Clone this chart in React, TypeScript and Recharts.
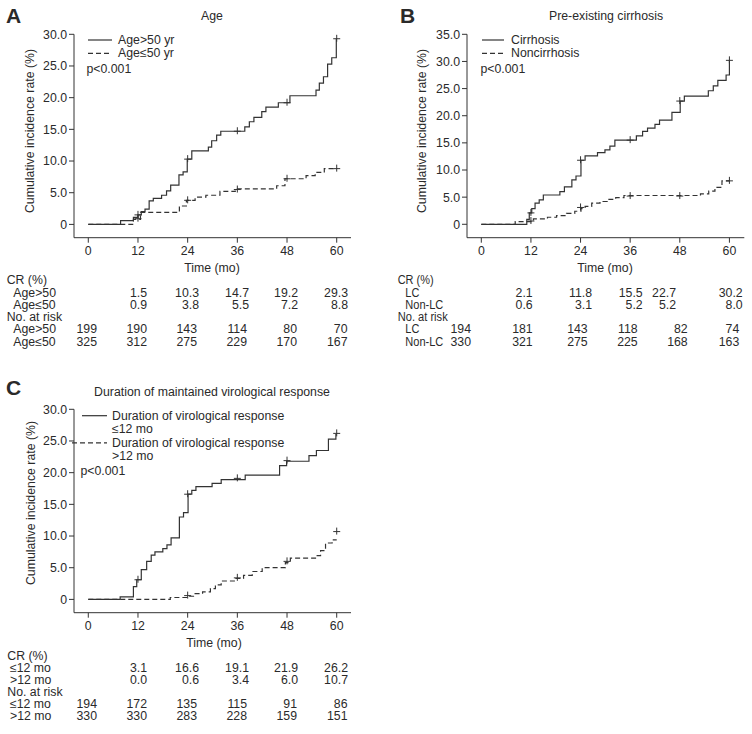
import React from 'react';
import { ComposedChart, Line, Scatter, XAxis, YAxis } from 'recharts';

// step points [time (mo), cumulative incidence (%)]
const ageOver50 = [[0,0],[7.8,0.6],[10.9,1.1],[12,1.5],[12.8,2.0],[13.7,2.4],[14.7,3.7],[15.7,4.1],[17.7,4.6],[18.9,5.3],[19.9,6.2],[21.9,7.8],[22.9,8.3],[23.9,10.3],[25,11.6],[29,12.2],[29.8,13.2],[31,14.1],[32,14.7],[37.8,15.4],[38.9,16.2],[40,16.9],[41.9,17.8],[42.9,18.5],[45.9,19.2],[48.7,20.3],[55,21.2],[55.8,22.3],[56.8,23.3],[57.8,25.3],[58.8,26.3],[59.9,29.3]];
const ageUnder50 = [[0,0],[10.9,0.8],[12.6,1.9],[22,2.9],[23.7,3.8],[25.8,4.3],[28.4,4.6],[31.8,5.2],[35.5,5.6],[45.5,6.1],[47.5,7.2],[52.6,7.7],[54.8,8.2],[57,8.8],[60,8.8]];
const cirrhosis = [[0,0],[11,0.9],[11.6,2.1],[12.2,2.9],[13,3.9],[14,4.5],[15,5.4],[19,6.0],[20.1,6.9],[21.9,8.2],[22.9,8.9],[24.1,11.8],[25.1,12.6],[28.1,13.2],[29.9,13.7],[31.1,14.4],[32.3,15.5],[37.5,16.3],[39,17.1],[40.2,17.7],[42,18.4],[43.1,19.2],[46.1,20.6],[48.1,22.7],[49.1,23.6],[54.9,24.6],[56.1,25.5],[57.2,26.5],[59.2,27.5],[60,30.2]];
const noncirrhosis = [[0,0],[8.2,0.5],[12.6,1.0],[16,1.3],[18.2,1.6],[20.6,2.0],[22.6,2.4],[24.1,2.9],[25.1,3.3],[26.7,3.9],[28.7,4.2],[30.5,4.6],[32.5,4.9],[34.5,5.3],[53,5.6],[55,6.1],[56.5,6.8],[58.2,8.0],[60,8.0]];
const vrShort = [[0,0],[7.7,0.4],[10.9,2.0],[11.7,3.1],[12.8,4.7],[14.1,6.0],[15.2,7.0],[16.1,7.5],[18,8.0],[19,8.6],[20,9.7],[22,13.0],[23,13.7],[24.1,16.6],[25,17.2],[26,17.8],[29.9,18.3],[32.1,18.9],[37.9,19.6],[46.2,21.1],[47.9,21.8],[53.3,22.7],[55.1,23.5],[58,25.3],[59.8,26.0],[60,26.0]];
const vrLong = [[0,0],[19.8,0.3],[24,0.5],[25.8,0.9],[27.6,1.2],[29.5,1.7],[30.7,2.3],[32.1,2.9],[35.5,3.3],[37.5,3.8],[39.6,4.4],[42,5.0],[47.6,5.8],[48.8,6.5],[55.1,6.9],[56.1,7.7],[57.3,8.9],[58.9,9.4],[60,9.4]];

const timeTicks = [0, 12, 24, 36, 48, 60];
const censorTimes = [12, 24, 36, 48, 60];
const ticks30 = [0, 5, 10, 15, 20, 25, 30];
const ticks35 = [0, 5, 10, 15, 20, 25, 30, 35];

// CR (%) at 12..60 mo
const crAgeOver = ['1.5', '10.3', '14.7', '19.2', '29.3'];
const crAgeUnder = ['0.9', '3.8', '5.5', '7.2', '8.8'];
const crLC = ['2.1', '11.8', '15.5', '22.7', '30.2'];
const crNonLC = ['0.6', '3.1', '5.2', '5.2', '8.0'];
const crShort = ['3.1', '16.6', '19.1', '21.9', '26.2'];
const crLong = ['0.0', '0.6', '3.4', '6.0', '10.7'];

// No. at risk at 0..60 mo
const riskAgeOver = [199, 190, 143, 114, 80, 70];
const riskAgeUnder = [325, 312, 275, 229, 170, 167];
const riskLC = [194, 181, 143, 118, 82, 74];
const riskNonLC = [330, 321, 275, 225, 168, 163];
const riskShort = [194, 172, 135, 115, 91, 86];
const riskLong = [330, 330, 283, 228, 159, 151];

const toPts = (arr: number[][]) => arr.map(([t, v]) => ({ t, v }));
const toCensor = (cr: string[]) => cr.map((v, i) => ({ t: censorTimes[i], v: parseFloat(v) }));

const FONT = '"Liberation Sans", Arial, Helvetica, sans-serif';
const FS = 12.3;
const INK = '#2a2a2a';

const Plus = (props: any) => {
  const { cx, cy } = props;
  if (cx == null || cy == null) return null;
  return (
    <g stroke="#333" strokeWidth={1}>
      <line x1={cx - 3.5} x2={cx + 3.5} y1={cy} y2={cy} />
      <line x1={cx} x2={cx} y1={cy - 4} y2={cy + 3} />
    </g>
  );
};

const fmtY = (v: number) => (v === 0 ? '0' : v.toFixed(1));

interface PanelProps {
  left: number;
  top: number;
  yAxisWidth: number;
  marginRight: number;
  xDomain: number[];
  yDomain: number[];
  yTicks: number[];
  solid: number[][];
  dashed: number[][];
  solidCr: string[];
  dashedCr: string[];
  skipDashed0?: boolean;
}

const KMPanel: React.FC<PanelProps> = ({ left, top, yAxisWidth, marginRight, xDomain, yDomain, yTicks, solid, dashed, solidCr, dashedCr, skipDashed0 }) => {
  const dashedCensor = toCensor(dashedCr).filter((p) => !(skipDashed0 && p.v === 0));
  return (
    <div style={{ position: 'absolute', left, top }}>
      <ComposedChart width={376} height={280} margin={{ top: 34.3, right: marginRight, bottom: 12.3, left: 0 }}>
        <XAxis
          type="number"
          dataKey="t"
          domain={xDomain}
          ticks={timeTicks}
          allowDataOverflow
          height={30}
          tickSize={5}
          tickMargin={4}
          stroke="#333"
          tick={{ fill: INK, fontSize: FS }}
        />
        <YAxis
          type="number"
          dataKey="v"
          domain={yDomain}
          ticks={yTicks}
          allowDataOverflow
          width={yAxisWidth}
          tickSize={5}
          tickMargin={2}
          stroke="#333"
          tick={{ fill: INK, fontSize: FS }}
          tickFormatter={fmtY}
        />
        <Line data={toPts(solid)} dataKey="v" type="stepAfter" stroke="#333" strokeWidth={1.2} dot={false} isAnimationActive={false} />
        <Line data={toPts(dashed)} dataKey="v" type="stepAfter" stroke="#333" strokeWidth={1.2} strokeDasharray="5 3" dot={false} isAnimationActive={false} />
        <Scatter data={toCensor(solidCr)} dataKey="v" shape={<Plus />} isAnimationActive={false} />
        <Scatter data={dashedCensor} dataKey="v" shape={<Plus />} isAnimationActive={false} />
      </ComposedChart>
    </div>
  );
};

const Txt = ({ x, y, children, anchor = 'start', size = FS, weight = 400, fit }: any) => (
  <text x={x} y={y} textAnchor={anchor} fontSize={size} fontWeight={weight} fill={INK}
    {...(fit ? { textLength: fit, lengthAdjust: 'spacingAndGlyphs' } : {})}>{children}</text>
);

const VLabel = ({ x, y }: { x: number; y: number }) => (
  <text x={x} y={y} textAnchor="middle" fontSize={FS} fill={INK} transform={`rotate(-90 ${x} ${y})`}>
    Cumulative incidence rate (%)
  </text>
);

const Legend = ({ x1, x2, xd1, y, rowGap, textX, solidLines, dashedLines, pY }: any) => (
  <g>
    <line x1={x1} x2={x2} y1={y} y2={y} stroke="#333" strokeWidth={1.2} />
    {solidLines.map((s: string, i: number) => (
      <Txt key={'s' + i} x={textX} y={y + 4.3 + i * rowGap}>{s}</Txt>
    ))}
    <line x1={xd1} x2={x2} y1={y + solidLines.length * rowGap + 0.5} y2={y + solidLines.length * rowGap + 0.5} stroke="#333" strokeWidth={1.2} strokeDasharray="5 3" />
    {dashedLines.map((s: string, i: number) => (
      <Txt key={'d' + i} x={textX} y={y + 4.3 + (solidLines.length + i) * rowGap}>{s}</Txt>
    ))}
    <Txt x={x1 - 1.5} y={pY}>p&lt;0.001</Txt>
  </g>
);

const RiskTable = ({ labelX, subX, baselines, crRight, riskRight, names, cr1, cr2, r1, r2, fits = {} }: any) => (
  <g>
    <Txt x={labelX} y={baselines[0]} fit={fits.cr}>CR (%)</Txt>
    <Txt x={subX} y={baselines[1]} fit={fits.n0}>{names[0]}</Txt>
    <Txt x={subX} y={baselines[2]} fit={fits.n1}>{names[1]}</Txt>
    {cr1.map((v: string, i: number) => <Txt key={'a' + i} x={crRight[i + 1]} y={baselines[1]} anchor="end">{v}</Txt>)}
    {cr2.map((v: string, i: number) => <Txt key={'b' + i} x={crRight[i + 1]} y={baselines[2]} anchor="end">{v}</Txt>)}
    <Txt x={labelX} y={baselines[3]} fit={fits.risk}>No. at risk</Txt>
    <Txt x={subX} y={baselines[4]} fit={fits.n0}>{names[0]}</Txt>
    <Txt x={subX} y={baselines[5]} fit={fits.n1}>{names[1]}</Txt>
    {r1.map((v: number, i: number) => <Txt key={'c' + i} x={riskRight[i]} y={baselines[4]} anchor="end">{v}</Txt>)}
    {r2.map((v: number, i: number) => <Txt key={'d' + i} x={riskRight[i]} y={baselines[5]} anchor="end">{v}</Txt>)}
  </g>
);

export default function App() {
  const rowsTop = [283.5, 297, 309, 321, 333.3, 345.7];
  const rowsC = [660, 672, 684, 696, 708.3, 720];
  const colsA = [97, 147, 199, 249, 298, 348];
  const riskColsA = [97, 147, 197, 247, 297, 347.5];
  const crColsB = [471, 532.7, 592, 642.7, 676, 742.7];
  const riskColsB = [471, 532.7, 587.7, 637.7, 687.7, 739.3];

  return (
    <div style={{ position: 'absolute', left: 0, top: 0, width: 752, height: 734, background: '#fff', fontFamily: FONT }}>
      <KMPanel left={0} top={0} yAxisWidth={74} marginRight={25} xDomain={[-3.45, 63.45]} yDomain={[-2.1, 30]} yTicks={ticks30}
        solid={ageOver50} dashed={ageUnder50} solidCr={crAgeOver} dashedCr={crAgeUnder} />
      <KMPanel left={376} top={0} yAxisWidth={91} marginRight={7.7} xDomain={[-3.46, 63.6]} yDomain={[-2.47, 35]} yTicks={ticks35}
        solid={cirrhosis} dashed={noncirrhosis} solidCr={crLC} dashedCr={crNonLC} />
      <KMPanel left={0} top={375} yAxisWidth={74} marginRight={25} xDomain={[-3.45, 63.45]} yDomain={[-2.1, 30]} yTicks={ticks30}
        solid={vrShort} dashed={vrLong} solidCr={crShort} dashedCr={crLong} skipDashed0 />

      <svg width={752} height={734} style={{ position: 'absolute', left: 0, top: 0, pointerEvents: 'none', fontFamily: FONT }}>
        {/* panel letters and titles */}
        <Txt x={6} y={23} size={21} weight={700}>A</Txt>
        <Txt x={400} y={23} size={21} weight={700}>B</Txt>
        <Txt x={6} y={395} size={21} weight={700}>C</Txt>
        <Txt x={212} y={20} anchor="middle">Age</Txt>
        <Txt x={606} y={20} anchor="middle">Pre-existing cirrhosis</Txt>
        <Txt x={212} y={396} anchor="middle">Duration of maintained virological response</Txt>

        <VLabel x={34} y={131} />
        <VLabel x={426} y={131} />
        <VLabel x={35} y={503} />

        <Txt x={212} y={272} anchor="middle">Time (mo)</Txt>
        <Txt x={605} y={272} anchor="middle">Time (mo)</Txt>
        <Txt x={214} y={646.5} anchor="middle">Time (mo)</Txt>

        <Legend x1={88} x2={112} xd1={88} y={40} rowGap={12.8} textX={118}
          solidLines={['Age>50 yr']} dashedLines={['Age≤50 yr']} pY={72.5} />
        <Legend x1={482} x2={504} xd1={482} y={40} rowGap={12.8} textX={511}
          solidLines={['Cirrhosis']} dashedLines={['Noncirrhosis']} pY={72.5} />
        <Legend x1={82} x2={107} xd1={72} y={415.7} rowGap={13.3} textX={112}
          solidLines={['Duration of virological response', '≤12 mo']} dashedLines={['Duration of virological response', '>12 mo']} pY={475} />

        <RiskTable labelX={6.7} subX={13.3} baselines={rowsTop} crRight={colsA} riskRight={riskColsA}
          names={['Age>50', 'Age≤50']} cr1={crAgeOver} cr2={crAgeUnder} r1={riskAgeOver} r2={riskAgeUnder} />
        <RiskTable labelX={397.7} subX={405.3} baselines={rowsTop} crRight={crColsB} riskRight={riskColsB}
          names={['LC', 'Non-LC']} cr1={crLC} cr2={crNonLC} r1={riskLC} r2={riskNonLC}
          fits={{ cr: 36, n0: 14, n1: 38, risk: 50 }} />
        <RiskTable labelX={7.3} subX={10} baselines={rowsC} crRight={colsA} riskRight={riskColsA}
          names={['≤12 mo', '>12 mo']} cr1={crShort} cr2={crLong} r1={riskShort} r2={riskLong} />
      </svg>
    </div>
  );
}
